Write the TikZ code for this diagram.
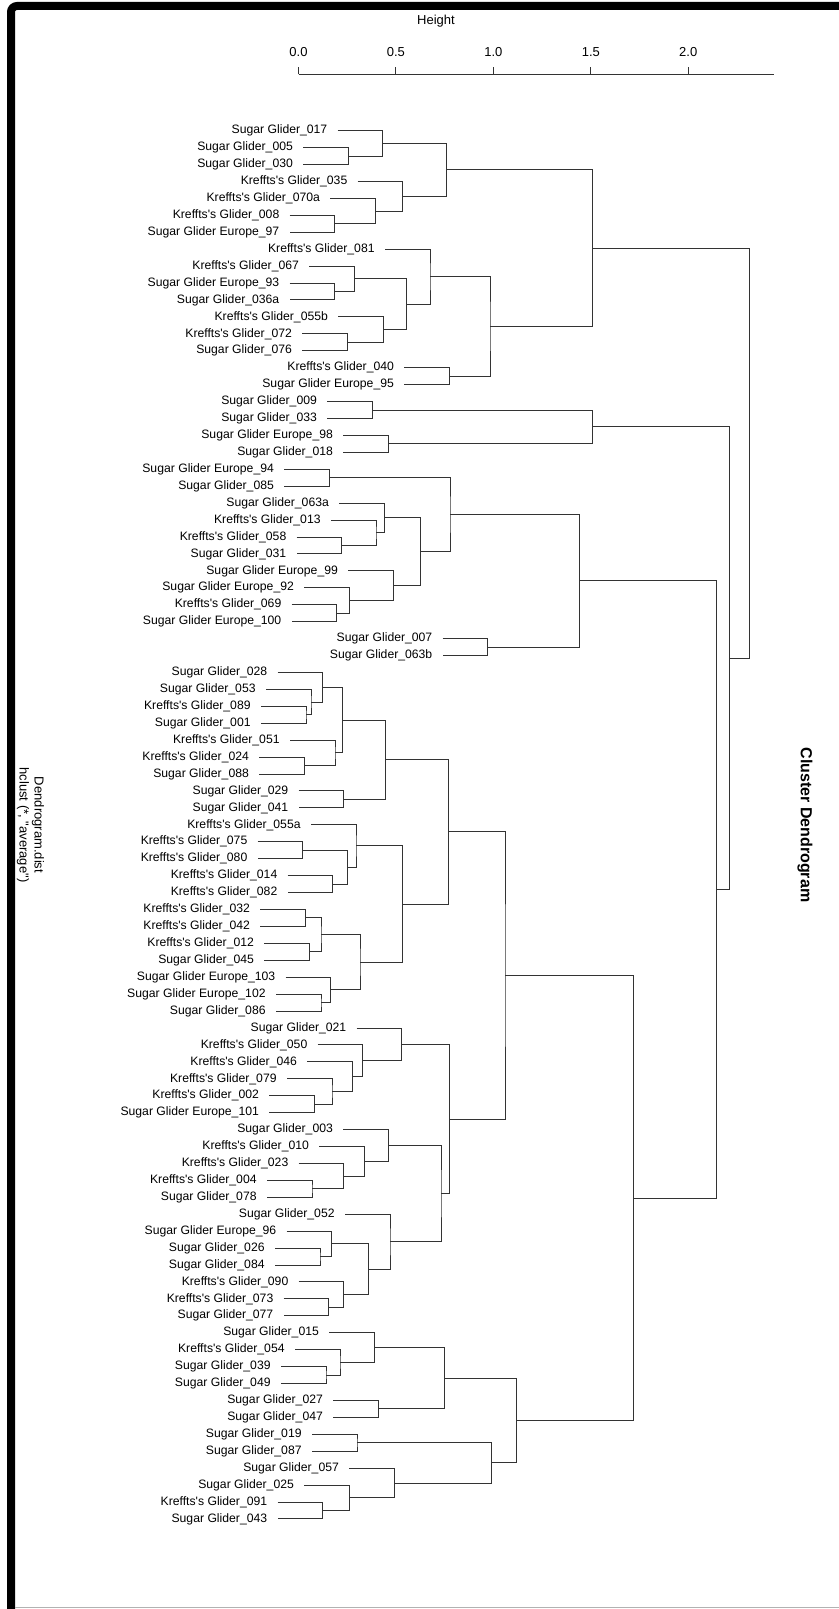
\documentclass[tikz,border=0pt]{standalone}
\usepackage{fontspec}
\newfontfamily\rfont{Liberation Sans}

\begin{document}
\begin{tikzpicture}[x=0.5pt, y=-0.5pt,
    leaf/.style={anchor=east, inner xsep=5pt, inner ysep=0pt, font=\rfont\fontsize{6.1}{7}\selectfont},
    link/.style={draw=black!80, line width=0.5pt},
    axlab/.style={font=\rfont\fontsize{6.5}{7.5}\selectfont}]
    \useasboundingbox (0,0) rectangle (839,1609);

    % Window frame
    \draw[line width=4pt, rounded corners=3pt] (11,1609) -- (11,6) -- (839,6);
    \draw[black!30, line width=0.5pt] (15,1607) -- (839,1607);

    % Height axis
    \node[axlab] (ylab) at (436,21) {Height};
    \coordinate (ax0) at (298.5,74.5);
    \coordinate (ax1) at (774,74.5);
    \draw[link] (ax0) -- (ax1);
    \draw[link] (298.5,74.5) -- ++(0,-7);
    \draw[link] (395.9,74.5) -- ++(0,-7);
    \draw[link] (493.4,74.5) -- ++(0,-7);
    \draw[link] (590.8,74.5) -- ++(0,-7);
    \draw[link] (688.2,74.5) -- ++(0,-7);
    \node[axlab] (t0) at (298.5,52) {0.0};
    \node[axlab] (t1) at (395.9,52) {0.5};
    \node[axlab] (t2) at (493.4,52) {1.0};
    \node[axlab] (t3) at (590.8,52) {1.5};
    \node[axlab] (t4) at (688.2,52) {2.0};

    % Titles
    \node[font=\rfont\bfseries\fontsize{8}{9.6}\selectfont, rotate=-90] (title) at (805,825) {Cluster Dendrogram};
    \node[axlab, rotate=-90, align=center] (sub) at (30.5,825) {Dendrogram.dist\\hclust (*, "average")};

    \begin{scope}[y=-8.465pt, yshift=-56.885pt]
    % Leaves
    \node[leaf] (sg017) at (337.7,1) {Sugar Glider\_017};
    \node[leaf] (sg005) at (303.3,2) {Sugar Glider\_005};
    \node[leaf] (sg030) at (303.3,3) {Sugar Glider\_030};
    \node[leaf] (kg035) at (357.7,4) {Kreffts's Glider\_035};
    \node[leaf] (kg070a) at (330.3,5) {Kreffts's Glider\_070a};
    \node[leaf] (kg008) at (289.7,6) {Kreffts's Glider\_008};
    \node[leaf] (se97) at (289.7,7) {Sugar Glider Europe\_97};
    \node[leaf] (kg081) at (385,8) {Kreffts's Glider\_081};
    \node[leaf] (kg067) at (309.3,9) {Kreffts's Glider\_067};
    \node[leaf] (se93) at (289.7,10) {Sugar Glider Europe\_93};
    \node[leaf] (sg036a) at (289.7,11) {Sugar Glider\_036a};
    \node[leaf] (kg055b) at (338.3,12) {Kreffts's Glider\_055b};
    \node[leaf] (kg072) at (302.3,13) {Kreffts's Glider\_072};
    \node[leaf] (sg076) at (302.3,14) {Sugar Glider\_076};
    \node[leaf] (kg040) at (404.3,15) {Kreffts's Glider\_040};
    \node[leaf] (se95) at (404.3,16) {Sugar Glider Europe\_95};
    \node[leaf] (sg009) at (327.3,17) {Sugar Glider\_009};
    \node[leaf] (sg033) at (327.3,18) {Sugar Glider\_033};
    \node[leaf] (se98) at (343.3,19) {Sugar Glider Europe\_98};
    \node[leaf] (sg018) at (343.3,20) {Sugar Glider\_018};
    \node[leaf] (se94) at (284.3,21) {Sugar Glider Europe\_94};
    \node[leaf] (sg085) at (284.3,22) {Sugar Glider\_085};
    \node[leaf] (sg063a) at (339.3,23) {Sugar Glider\_063a};
    \node[leaf] (kg013) at (331,24) {Kreffts's Glider\_013};
    \node[leaf] (kg058) at (296.7,25) {Kreffts's Glider\_058};
    \node[leaf] (sg031) at (296.7,26) {Sugar Glider\_031};
    \node[leaf] (se99) at (348.3,27) {Sugar Glider Europe\_99};
    \node[leaf] (se92) at (304.3,28) {Sugar Glider Europe\_92};
    \node[leaf] (kg069) at (291.7,29) {Kreffts's Glider\_069};
    \node[leaf] (se100) at (291.7,30) {Sugar Glider Europe\_100};
    \node[leaf] (sg007) at (442.7,31) {Sugar Glider\_007};
    \node[leaf] (sg063b) at (442.7,32) {Sugar Glider\_063b};
    \node[leaf] (sg028) at (277.7,33) {Sugar Glider\_028};
    \node[leaf] (sg053) at (266,34) {Sugar Glider\_053};
    \node[leaf] (kg089) at (261,35) {Kreffts's Glider\_089};
    \node[leaf] (sg001) at (261,36) {Sugar Glider\_001};
    \node[leaf] (kg051) at (290,37) {Kreffts's Glider\_051};
    \node[leaf] (kg024) at (259.3,38) {Kreffts's Glider\_024};
    \node[leaf] (sg088) at (259.3,39) {Sugar Glider\_088};
    \node[leaf] (sg029) at (298.7,40) {Sugar Glider\_029};
    \node[leaf] (sg041) at (298.7,41) {Sugar Glider\_041};
    \node[leaf] (kg055a) at (311,42) {Kreffts's Glider\_055a};
    \node[leaf] (kg075) at (257.7,43) {Kreffts's Glider\_075};
    \node[leaf] (kg080) at (257.7,44) {Kreffts's Glider\_080};
    \node[leaf] (kg014) at (287.7,45) {Kreffts's Glider\_014};
    \node[leaf] (kg082) at (287.7,46) {Kreffts's Glider\_082};
    \node[leaf] (kg032) at (260.3,47) {Kreffts's Glider\_032};
    \node[leaf] (kg042) at (260.3,48) {Kreffts's Glider\_042};
    \node[leaf] (kg012) at (264.3,49) {Kreffts's Glider\_012};
    \node[leaf] (sg045) at (264.3,50) {Sugar Glider\_045};
    \node[leaf] (se103) at (285.7,51) {Sugar Glider Europe\_103};
    \node[leaf] (se102) at (276,52) {Sugar Glider Europe\_102};
    \node[leaf] (sg086) at (276,53) {Sugar Glider\_086};
    \node[leaf] (sg021) at (356.7,54) {Sugar Glider\_021};
    \node[leaf] (kg050) at (317.7,55) {Kreffts's Glider\_050};
    \node[leaf] (kg046) at (307.3,56) {Kreffts's Glider\_046};
    \node[leaf] (kg079) at (287,57) {Kreffts's Glider\_079};
    \node[leaf] (kg002) at (269.3,58) {Kreffts's Glider\_002};
    \node[leaf] (se101) at (269.3,59) {Sugar Glider Europe\_101};
    \node[leaf] (sg003) at (343.3,60) {Sugar Glider\_003};
    \node[leaf] (kg010) at (319.3,61) {Kreffts's Glider\_010};
    \node[leaf] (kg023) at (298.7,62) {Kreffts's Glider\_023};
    \node[leaf] (kg004) at (267,63) {Kreffts's Glider\_004};
    \node[leaf] (sg078) at (267,64) {Sugar Glider\_078};
    \node[leaf] (sg052) at (345,65) {Sugar Glider\_052};
    \node[leaf] (se96) at (286.7,66) {Sugar Glider Europe\_96};
    \node[leaf] (sg026) at (275,67) {Sugar Glider\_026};
    \node[leaf] (sg084) at (275,68) {Sugar Glider\_084};
    \node[leaf] (kg090) at (298.7,69) {Kreffts's Glider\_090};
    \node[leaf] (kg073) at (283.7,70) {Kreffts's Glider\_073};
    \node[leaf] (sg077) at (283.7,71) {Sugar Glider\_077};
    \node[leaf] (sg015) at (329.3,72) {Sugar Glider\_015};
    \node[leaf] (kg054) at (295,73) {Kreffts's Glider\_054};
    \node[leaf] (sg039) at (281,74) {Sugar Glider\_039};
    \node[leaf] (sg049) at (281,75) {Sugar Glider\_049};
    \node[leaf] (sg027) at (333.3,76) {Sugar Glider\_027};
    \node[leaf] (sg047) at (333.3,77) {Sugar Glider\_047};
    \node[leaf] (sg019) at (312,78) {Sugar Glider\_019};
    \node[leaf] (sg087) at (312,79) {Sugar Glider\_087};
    \node[leaf] (sg057) at (349.3,80) {Sugar Glider\_057};
    \node[leaf] (sg025) at (304.3,81) {Sugar Glider\_025};
    \node[leaf] (kg091) at (277.6,82) {Kreffts's Glider\_091};
    \node[leaf] (sg043) at (277.6,83) {Sugar Glider\_043};

    % Merge points, top block
    \coordinate (a1) at (348.3,2.5);
    \coordinate (a2) at (382.7,1.75);
    \coordinate (a3) at (334.7,6.5);
    \coordinate (a4) at (375.3,5.75);
    \coordinate (a5) at (402.7,4.875);
    \coordinate (a6) at (446.7,3.3125);
    \coordinate (a7) at (334.7,10.5);
    \coordinate (a8) at (354.3,9.75);
    \coordinate (a9) at (347.3,13.5);
    \coordinate (a10) at (383.3,12.75);
    \coordinate (a11) at (406.7,11.25);
    \coordinate (a12) at (430,9.625);
    \coordinate (a13) at (449.3,15.5);
    \coordinate (a14) at (490,12.5625);
    \coordinate (a15) at (592.7,7.9375);

    % Merge points, middle block
    \coordinate (b1) at (372.3,17.5);
    \coordinate (b2) at (388.3,19.5);
    \coordinate (b3) at (592.7,18.5);
    \coordinate (b4) at (329.3,21.5);
    \coordinate (b5) at (341.7,25.5);
    \coordinate (b6) at (376,24.75);
    \coordinate (b7) at (384.3,23.875);
    \coordinate (b8) at (336.7,29.5);
    \coordinate (b9) at (349.3,28.75);
    \coordinate (b10) at (393.3,27.875);
    \coordinate (b11) at (420.7,25.875);
    \coordinate (b12) at (450,23.6875);
    \coordinate (b13) at (487.7,31.5);
    \coordinate (b14) at (579.3,27.59375);

    % Merge points, lower block
    \coordinate (c1) at (306,35.5);
    \coordinate (c2) at (311,34.75);
    \coordinate (c3) at (322.7,33.875);
    \coordinate (c4) at (304.3,38.5);
    \coordinate (c5) at (335,37.75);
    \coordinate (c6) at (342.7,35.8125);
    \coordinate (c7) at (343.7,40.5);
    \coordinate (c8) at (385.3,38.15625);
    \coordinate (c9) at (302.7,43.5);
    \coordinate (c10) at (332.7,45.5);
    \coordinate (c11) at (347.3,44.5);
    \coordinate (c12) at (356,43.25);
    \coordinate (c13) at (305.3,47.5);
    \coordinate (c14) at (309.3,49.5);
    \coordinate (c15) at (321,48.5);
    \coordinate (c16) at (321,52.5);
    \coordinate (c17) at (330.7,51.75);
    \coordinate (c18) at (360,50.125);
    \coordinate (c19) at (402.3,46.6875);
    \coordinate (c20) at (448.7,42.421875);

    \coordinate (d1) at (314.3,58.5);
    \coordinate (d2) at (332,57.75);
    \coordinate (d3) at (352.3,56.875);
    \coordinate (d4) at (362.7,55.9375);
    \coordinate (d5) at (401.7,54.96875);
    \coordinate (d6) at (312,63.5);
    \coordinate (d7) at (343.7,62.75);
    \coordinate (d8) at (364.3,61.875);
    \coordinate (d9) at (388.3,60.9375);
    \coordinate (d10) at (320,67.5);
    \coordinate (d11) at (331.7,66.75);
    \coordinate (d12) at (328.7,70.5);
    \coordinate (d13) at (343.7,69.75);
    \coordinate (d14) at (368.7,68.25);
    \coordinate (d15) at (390,66.625);
    \coordinate (d16) at (441,63.78125);
    \coordinate (d17) at (449.3,59.375);
    \coordinate (d18) at (505,50.8984375);

    \coordinate (e1) at (326,74.5);
    \coordinate (e2) at (340,73.75);
    \coordinate (e3) at (374.3,72.875);
    \coordinate (e4) at (378.3,76.5);
    \coordinate (e5) at (444.3,74.6875);
    \coordinate (e6) at (357,78.5);
    \coordinate (e7) at (322.6,82.5);
    \coordinate (e8) at (349.3,81.75);
    \coordinate (e9) at (394.3,80.875);
    \coordinate (e10) at (491.7,79.6875);
    \coordinate (e11) at (516.7,77.1875);
    \coordinate (e12) at (633.3,64.04296875);

    % Upper joins
    \coordinate (f1) at (716.7,45.818359375);
    \coordinate (f2) at (729.3,32.1591796875);
    \coordinate (root) at (749,20.04833984375);

    % Links, top block
    \draw[link] (sg005.east) -| (a1) |- (sg030.east);
    \draw[link] (sg017.east) -| (a2) |- (a1);
    \draw[link] (kg008.east) -| (a3) |- (se97.east);
    \draw[link] (kg070a.east) -| (a4) |- (a3);
    \draw[link] (kg035.east) -| (a5) |- (a4);
    \draw[link] (a2) -| (a6) |- (a5);
    \draw[link] (se93.east) -| (a7) |- (sg036a.east);
    \draw[link] (kg067.east) -| (a8) |- (a7);
    \draw[link] (kg072.east) -| (a9) |- (sg076.east);
    \draw[link] (kg055b.east) -| (a10) |- (a9);
    \draw[link] (a8) -| (a11) |- (a10);
    \draw[link] (kg081.east) -| (a12) |- (a11);
    \draw[link] (kg040.east) -| (a13) |- (se95.east);
    \draw[link] (a12) -| (a14) |- (a13);
    \draw[link] (a6) -| (a15) |- (a14);

    % Links, middle block
    \draw[link] (sg009.east) -| (b1) |- (sg033.east);
    \draw[link] (se98.east) -| (b2) |- (sg018.east);
    \draw[link] (b1) -| (b3) |- (b2);
    \draw[link] (se94.east) -| (b4) |- (sg085.east);
    \draw[link] (kg058.east) -| (b5) |- (sg031.east);
    \draw[link] (kg013.east) -| (b6) |- (b5);
    \draw[link] (sg063a.east) -| (b7) |- (b6);
    \draw[link] (kg069.east) -| (b8) |- (se100.east);
    \draw[link] (se92.east) -| (b9) |- (b8);
    \draw[link] (se99.east) -| (b10) |- (b9);
    \draw[link] (b7) -| (b11) |- (b10);
    \draw[link] (b4) -| (b12) |- (b11);
    \draw[link] (sg007.east) -| (b13) |- (sg063b.east);
    \draw[link] (b12) -| (b14) |- (b13);

    % Links, lower block
    \draw[link] (kg089.east) -| (c1) |- (sg001.east);
    \draw[link] (sg053.east) -| (c2) |- (c1);
    \draw[link] (sg028.east) -| (c3) |- (c2);
    \draw[link] (kg024.east) -| (c4) |- (sg088.east);
    \draw[link] (kg051.east) -| (c5) |- (c4);
    \draw[link] (c3) -| (c6) |- (c5);
    \draw[link] (sg029.east) -| (c7) |- (sg041.east);
    \draw[link] (c6) -| (c8) |- (c7);
    \draw[link] (kg075.east) -| (c9) |- (kg080.east);
    \draw[link] (kg014.east) -| (c10) |- (kg082.east);
    \draw[link] (c9) -| (c11) |- (c10);
    \draw[link] (kg055a.east) -| (c12) |- (c11);
    \draw[link] (kg032.east) -| (c13) |- (kg042.east);
    \draw[link] (kg012.east) -| (c14) |- (sg045.east);
    \draw[link] (c13) -| (c15) |- (c14);
    \draw[link] (se102.east) -| (c16) |- (sg086.east);
    \draw[link] (se103.east) -| (c17) |- (c16);
    \draw[link] (c15) -| (c18) |- (c17);
    \draw[link] (c12) -| (c19) |- (c18);
    \draw[link] (c8) -| (c20) |- (c19);

    \draw[link] (kg002.east) -| (d1) |- (se101.east);
    \draw[link] (kg079.east) -| (d2) |- (d1);
    \draw[link] (kg046.east) -| (d3) |- (d2);
    \draw[link] (kg050.east) -| (d4) |- (d3);
    \draw[link] (sg021.east) -| (d5) |- (d4);
    \draw[link] (kg004.east) -| (d6) |- (sg078.east);
    \draw[link] (kg023.east) -| (d7) |- (d6);
    \draw[link] (kg010.east) -| (d8) |- (d7);
    \draw[link] (sg003.east) -| (d9) |- (d8);
    \draw[link] (sg026.east) -| (d10) |- (sg084.east);
    \draw[link] (se96.east) -| (d11) |- (d10);
    \draw[link] (kg073.east) -| (d12) |- (sg077.east);
    \draw[link] (kg090.east) -| (d13) |- (d12);
    \draw[link] (d11) -| (d14) |- (d13);
    \draw[link] (sg052.east) -| (d15) |- (d14);
    \draw[link] (d9) -| (d16) |- (d15);
    \draw[link] (d5) -| (d17) |- (d16);
    \draw[link] (c20) -| (d18) |- (d17);

    \draw[link] (sg039.east) -| (e1) |- (sg049.east);
    \draw[link] (kg054.east) -| (e2) |- (e1);
    \draw[link] (sg015.east) -| (e3) |- (e2);
    \draw[link] (sg027.east) -| (e4) |- (sg047.east);
    \draw[link] (e3) -| (e5) |- (e4);
    \draw[link] (sg019.east) -| (e6) |- (sg087.east);
    \draw[link] (kg091.east) -| (e7) |- (sg043.east);
    \draw[link] (sg025.east) -| (e8) |- (e7);
    \draw[link] (sg057.east) -| (e9) |- (e8);
    \draw[link] (e6) -| (e10) |- (e9);
    \draw[link] (e5) -| (e11) |- (e10);
    \draw[link] (d18) -| (e12) |- (e11);

    % Upper joins
    \draw[link] (b14) -| (f1) |- (e12);
    \draw[link] (b3) -| (f2) |- (f1);
    \draw[link] (a15) -| (root) |- (f2);
    \end{scope}
\end{tikzpicture}
\end{document}
